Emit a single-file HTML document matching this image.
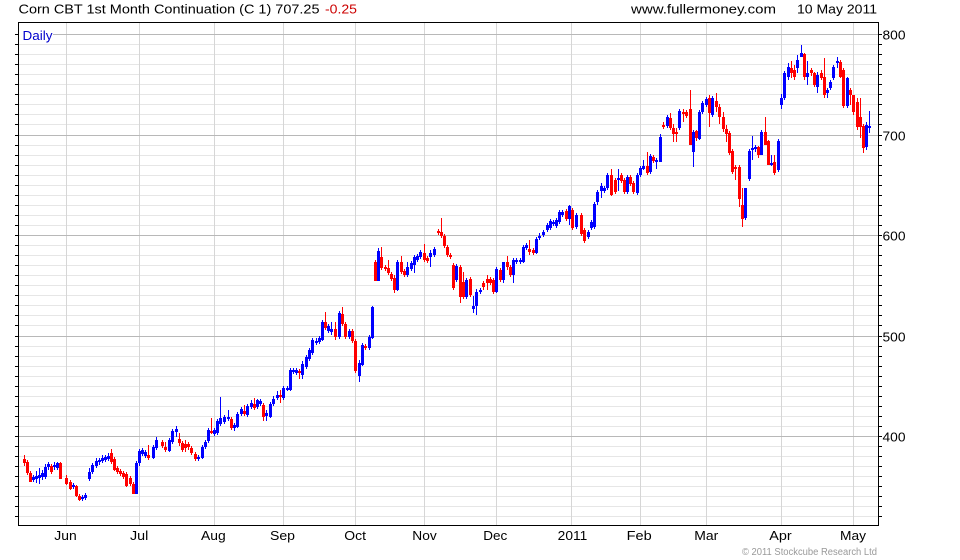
<!DOCTYPE html>
<html><head><meta charset="utf-8"><style>
html,body{margin:0;padding:0;background:#fff;}
svg{display:block;}
text{font-family:"Liberation Sans",Arial,sans-serif;}
</style></head><body>
<svg width="960" height="560" viewBox="0 0 960 560" xmlns="http://www.w3.org/2000/svg">
<rect x="0" y="0" width="960" height="560" fill="#fff"/>
<path shape-rendering="crispEdges" stroke="#e6e6e6" stroke-width="1" fill="none" d="M18 44.5H878M18 54.5H878M18 64.5H878M18 74.5H878M18 84.5H878M18 94.5H878M18 104.5H878M18 114.5H878M18 124.5H878M18 145.5H878M18 155.5H878M18 165.5H878M18 175.5H878M18 185.5H878M18 195.5H878M18 205.5H878M18 215.5H878M18 225.5H878M18 245.5H878M18 255.5H878M18 265.5H878M18 275.5H878M18 285.5H878M18 295.5H878M18 305.5H878M18 315.5H878M18 325.5H878M18 346.5H878M18 356.5H878M18 366.5H878M18 376.5H878M18 386.5H878M18 396.5H878M18 406.5H878M18 416.5H878M18 426.5H878M18 446.5H878M18 456.5H878M18 466.5H878M18 476.5H878M18 486.5H878M18 496.5H878M18 506.5H878M18 516.5H878"/>
<path shape-rendering="crispEdges" stroke="#d6d6d6" stroke-width="1" fill="none" d="M66.5 22V525M139.5 22V525M214.5 22V525M283.5 22V525M355.5 22V525M424.5 22V525M496.5 22V525M571.5 22V525M640.5 22V525M706.5 22V525M781.5 22V525M853.5 22V525"/>
<path shape-rendering="crispEdges" stroke="#b8b8b8" stroke-width="1" fill="none" d="M18 34.5H878M18 135.5H878M18 235.5H878M18 336.5H878M18 436.5H878"/>
<path shape-rendering="crispEdges" stroke="#000" stroke-width="1" fill="none" d="M15 34.5H18M15 44.5H18M15 54.5H18M15 64.5H18M15 74.5H18M15 84.5H18M15 94.5H18M15 104.5H18M15 114.5H18M15 124.5H18M15 135.5H18M15 145.5H18M15 155.5H18M15 165.5H18M15 175.5H18M15 185.5H18M15 195.5H18M15 205.5H18M15 215.5H18M15 225.5H18M15 235.5H18M15 245.5H18M15 255.5H18M15 265.5H18M15 275.5H18M15 285.5H18M15 295.5H18M15 305.5H18M15 315.5H18M15 325.5H18M15 336.5H18M15 346.5H18M15 356.5H18M15 366.5H18M15 376.5H18M15 386.5H18M15 396.5H18M15 406.5H18M15 416.5H18M15 426.5H18M15 436.5H18M15 446.5H18M15 456.5H18M15 466.5H18M15 476.5H18M15 486.5H18M15 496.5H18M15 506.5H18M15 516.5H18M878 34.5H882M878 44.5H882M878 54.5H882M878 64.5H882M878 74.5H882M878 84.5H882M878 94.5H882M878 104.5H882M878 114.5H882M878 124.5H882M878 135.5H882M878 145.5H882M878 155.5H882M878 165.5H882M878 175.5H882M878 185.5H882M878 195.5H882M878 205.5H882M878 215.5H882M878 225.5H882M878 235.5H882M878 245.5H882M878 255.5H882M878 265.5H882M878 275.5H882M878 285.5H882M878 295.5H882M878 305.5H882M878 315.5H882M878 325.5H882M878 336.5H882M878 346.5H882M878 356.5H882M878 366.5H882M878 376.5H882M878 386.5H882M878 396.5H882M878 406.5H882M878 416.5H882M878 426.5H882M878 436.5H882M878 446.5H882M878 456.5H882M878 466.5H882M878 476.5H882M878 486.5H882M878 496.5H882M878 506.5H882M878 516.5H882"/>
<rect x="19" y="27" width="34" height="15" fill="#fff"/>
<text x="22.5" y="40" font-size="13" fill="#0000cc" textLength="30" lengthAdjust="spacingAndGlyphs">Daily</text>
<path shape-rendering="crispEdges" fill="#0000ff" d="M32 477h3V480h-3zM33 475h1V482h-1zM35 476h3V479h-3zM36 471h1V483h-1zM38 475h3V478h-3zM39 468h1V484h-1zM41 473h3V477h-3zM42 470h1V480h-1zM44 467h3V477h-3zM45 464h1V479h-1zM47 464h3V467h-3zM48 462h1V470h-1zM53 465h3V467h-3zM54 462h1V470h-1zM56 463h3V468h-3zM57 462h1V470h-1zM72 485h3V487h-3zM73 483h1V489h-1zM81 497h3V499h-3zM82 495h1V501h-1zM84 495h3V498h-3zM85 493h1V500h-1zM88 472h3V479h-3zM89 468h1V481h-1zM91 465h3V472h-3zM92 463h1V474h-1zM95 461h3V466h-3zM96 458h1V468h-1zM98 460h3V462h-3zM99 458h1V465h-1zM101 458h3V461h-3zM102 455h1V463h-1zM104 457h3V460h-3zM105 455h1V462h-1zM107 456h3V459h-3zM108 453h1V461h-1zM135 463h3V494h-3zM136 461h1V494h-1zM138 451h3V463h-3zM139 449h1V466h-1zM141 450h3V454h-3zM142 448h1V456h-1zM144 452h3V456h-3zM145 450h1V458h-1zM152 447h3V458h-3zM153 445h1V459h-1zM155 440h3V448h-3zM156 437h1V450h-1zM168 440h3V451h-3zM169 438h1V452h-1zM171 431h3V442h-3zM172 429h1V444h-1zM175 429h3V432h-3zM176 426h1V437h-1zM197 457h3V459h-3zM198 455h1V461h-1zM201 447h3V458h-3zM202 445h1V459h-1zM204 442h3V447h-3zM205 440h1V449h-1zM207 430h3V441h-3zM208 428h1V443h-1zM213 430h3V434h-3zM214 428h1V436h-1zM216 421h3V433h-3zM217 419h1V435h-1zM219 418h3V424h-3zM220 397h1V426h-1zM223 417h3V422h-3zM224 415h1V424h-1zM227 417h3V419h-3zM228 410h1V421h-1zM233 425h3V428h-3zM234 423h1V431h-1zM236 414h3V427h-3zM237 412h1V428h-1zM240 409h3V414h-3zM241 407h1V416h-1zM246 406h3V415h-3zM247 404h1V417h-1zM250 403h3V407h-3zM251 400h1V409h-1zM256 400h3V407h-3zM257 399h1V409h-1zM259 401h3V404h-3zM260 399h1V406h-1zM265 413h3V416h-3zM266 410h1V421h-1zM269 404h3V417h-3zM270 402h1V418h-1zM272 399h3V404h-3zM273 396h1V406h-1zM276 395h3V398h-3zM277 391h1V400h-1zM282 388h3V398h-3zM283 386h1V400h-1zM286 388h3V390h-3zM287 386h1V391h-1zM289 370h3V390h-3zM290 368h1V391h-1zM292 370h3V372h-3zM293 368h1V374h-1zM295 370h3V373h-3zM296 368h1V375h-1zM301 364h3V375h-3zM302 361h1V379h-1zM305 357h3V367h-3zM306 355h1V369h-1zM308 350h3V359h-3zM309 348h1V361h-1zM311 340h3V353h-3zM312 338h1V355h-1zM315 341h3V343h-3zM316 338h1V345h-1zM318 338h3V342h-3zM319 336h1V344h-1zM321 322h3V340h-3zM322 320h1V341h-1zM327 326h3V331h-3zM328 324h1V333h-1zM330 329h3V332h-3zM331 322h1V335h-1zM338 313h3V337h-3zM339 311h1V339h-1zM348 331h3V337h-3zM349 329h1V339h-1zM358 363h3V376h-3zM359 360h1V382h-1zM361 345h3V365h-3zM362 343h1V366h-1zM368 337h3V348h-3zM369 335h1V350h-1zM371 307h3V338h-3zM372 306h1V339h-1zM377 251h3V281h-3zM378 248h1V281h-1zM396 262h3V290h-3zM397 260h1V291h-1zM406 267h3V275h-3zM407 262h1V277h-1zM410 263h3V269h-3zM411 261h1V271h-1zM413 257h3V265h-3zM414 255h1V273h-1zM416 256h3V260h-3zM417 254h1V262h-1zM419 252h3V257h-3zM420 250h1V259h-1zM429 253h3V257h-3zM430 250h1V267h-1zM433 249h3V255h-3zM434 247h1V257h-1zM455 266h3V280h-3zM456 264h1V282h-1zM465 280h3V297h-3zM466 278h1V299h-1zM472 306h3V309h-3zM473 296h1V313h-1zM475 292h3V306h-3zM476 289h1V315h-1zM479 290h3V292h-3zM480 288h1V294h-1zM495 269h3V292h-3zM496 267h1V293h-1zM502 262h3V280h-3zM503 262h1V283h-1zM512 260h3V275h-3zM513 258h1V283h-1zM515 260h3V262h-3zM516 258h1V264h-1zM519 260h3V262h-3zM520 258h1V264h-1zM522 247h3V262h-3zM523 245h1V263h-1zM525 245h3V248h-3zM526 243h1V250h-1zM535 239h3V253h-3zM536 237h1V254h-1zM538 236h3V238h-3zM539 233h1V240h-1zM542 232h3V235h-3zM543 230h1V237h-1zM546 225h3V230h-3zM547 223h1V232h-1zM549 221h3V228h-3zM550 219h1V230h-1zM552 222h3V224h-3zM553 220h1V226h-1zM555 220h3V226h-3zM556 218h1V228h-1zM558 212h3V222h-3zM559 210h1V224h-1zM561 212h3V215h-3zM562 210h1V217h-1zM568 206h3V219h-3zM569 205h1V225h-1zM575 215h3V227h-3zM576 213h1V229h-1zM587 232h3V237h-3zM588 230h1V239h-1zM590 222h3V228h-3zM591 220h1V230h-1zM593 204h3V227h-3zM594 202h1V229h-1zM596 192h3V202h-3zM597 190h1V205h-1zM600 186h3V191h-3zM601 183h1V198h-1zM603 188h3V191h-3zM604 186h1V193h-1zM606 175h3V188h-3zM607 173h1V190h-1zM617 178h3V180h-3zM618 169h1V191h-1zM626 177h3V192h-3zM627 175h1V194h-1zM636 175h3V193h-3zM637 173h1V195h-1zM639 168h3V175h-3zM640 166h1V177h-1zM642 166h3V169h-3zM643 160h1V170h-1zM649 156h3V172h-3zM650 154h1V174h-1zM655 160h3V162h-3zM656 158h1V169h-1zM659 137h3V162h-3zM660 134h1V162h-1zM666 117h3V126h-3zM667 115h1V128h-1zM678 111h3V128h-3zM679 109h1V130h-1zM692 132h3V152h-3zM693 130h1V167h-1zM698 112h3V139h-3zM699 110h1V140h-1zM701 103h3V112h-3zM702 101h1V114h-1zM705 99h3V105h-3zM706 97h1V107h-1zM711 98h3V115h-3zM712 96h1V117h-1zM744 188h3V218h-3zM745 188h1V220h-1zM748 151h3V179h-3zM749 149h1V181h-1zM751 148h3V150h-3zM752 136h1V160h-1zM754 147h3V149h-3zM755 145h1V152h-1zM760 132h3V155h-3zM761 130h1V155h-1zM770 163h3V165h-3zM771 155h1V166h-1zM777 141h3V170h-3zM778 139h1V172h-1zM780 98h3V105h-3zM781 94h1V109h-1zM783 73h3V98h-3zM784 71h1V100h-1zM787 67h3V77h-3zM788 63h1V80h-1zM796 60h3V68h-3zM797 55h1V73h-1zM800 53h3V57h-3zM801 45h1V57h-1zM806 73h3V77h-3zM807 61h1V85h-1zM816 75h3V87h-3zM817 72h1V93h-1zM826 90h3V93h-3zM827 88h1V98h-1zM829 82h3V88h-3zM830 80h1V90h-1zM832 67h3V78h-3zM833 65h1V80h-1zM836 61h3V63h-3zM837 57h1V68h-1zM846 78h3V106h-3zM847 77h1V108h-1zM865 125h3V147h-3zM866 122h1V150h-1zM868 126h3V128h-3zM869 111h1V133h-1z"/>
<path shape-rendering="crispEdges" fill="#ff0000" d="M23 459h3V463h-3zM24 455h1V466h-1zM26 462h3V473h-3zM27 460h1V475h-1zM29 473h3V482h-3zM30 471h1V482h-1zM50 466h3V472h-3zM51 464h1V474h-1zM59 463h3V479h-3zM60 462h1V479h-1zM65 478h3V484h-3zM66 475h1V485h-1zM69 482h3V489h-3zM70 480h1V490h-1zM75 486h3V496h-3zM76 485h1V497h-1zM78 496h3V500h-3zM79 494h1V501h-1zM110 453h3V462h-3zM111 449h1V464h-1zM113 459h3V470h-3zM114 457h1V471h-1zM116 468h3V472h-3zM117 466h1V474h-1zM119 471h3V474h-3zM120 469h1V476h-1zM122 473h3V477h-3zM123 471h1V479h-1zM125 474h3V486h-3zM126 472h1V487h-1zM129 478h3V484h-3zM130 476h1V486h-1zM132 484h3V494h-3zM133 482h1V494h-1zM147 455h3V458h-3zM148 445h1V460h-1zM161 442h3V446h-3zM162 440h1V448h-1zM164 447h3V450h-3zM165 442h1V452h-1zM178 439h3V443h-3zM179 433h1V446h-1zM181 443h3V450h-3zM182 441h1V452h-1zM184 444h3V448h-3zM185 440h1V452h-1zM187 444h3V447h-3zM188 442h1V450h-1zM190 448h3V453h-3zM191 446h1V455h-1zM194 454h3V459h-3zM195 452h1V461h-1zM210 431h3V433h-3zM211 418h1V434h-1zM230 419h3V428h-3zM231 417h1V430h-1zM243 411h3V414h-3zM244 405h1V416h-1zM253 404h3V408h-3zM254 398h1V410h-1zM262 405h3V417h-3zM263 403h1V421h-1zM279 395h3V397h-3zM280 390h1V403h-1zM298 371h3V373h-3zM299 369h1V379h-1zM324 322h3V328h-3zM325 312h1V330h-1zM334 329h3V337h-3zM335 322h1V340h-1zM341 314h3V324h-3zM342 307h1V326h-1zM344 324h3V337h-3zM345 322h1V339h-1zM351 331h3V341h-3zM352 329h1V343h-1zM354 341h3V371h-3zM355 339h1V373h-1zM364 346h3V348h-3zM365 344h1V350h-1zM374 262h3V281h-3zM375 260h1V281h-1zM380 257h3V268h-3zM381 247h1V270h-1zM384 267h3V269h-3zM385 265h1V271h-1zM387 268h3V273h-3zM388 260h1V275h-1zM390 274h3V279h-3zM391 272h1V281h-1zM393 278h3V290h-3zM394 275h1V293h-1zM400 262h3V272h-3zM401 256h1V274h-1zM403 271h3V275h-3zM404 269h1V277h-1zM423 253h3V260h-3zM424 244h1V262h-1zM426 258h3V261h-3zM427 256h1V263h-1zM437 231h3V233h-3zM438 229h1V235h-1zM440 232h3V236h-3zM441 218h1V238h-1zM443 236h3V246h-3zM444 234h1V248h-1zM446 247h3V255h-3zM447 245h1V257h-1zM449 255h3V257h-3zM450 253h1V259h-1zM452 265h3V288h-3zM453 263h1V290h-1zM459 267h3V297h-3zM460 265h1V303h-1zM462 282h3V297h-3zM463 272h1V299h-1zM469 279h3V295h-3zM470 277h1V297h-1zM482 283h3V287h-3zM483 281h1V290h-1zM486 279h3V283h-3zM487 275h1V290h-1zM489 279h3V283h-3zM490 277h1V285h-1zM492 280h3V292h-3zM493 278h1V294h-1zM499 270h3V280h-3zM500 268h1V282h-1zM506 262h3V267h-3zM507 256h1V270h-1zM509 267h3V275h-3zM510 265h1V277h-1zM528 249h3V252h-3zM529 240h1V255h-1zM532 250h3V253h-3zM533 248h1V255h-1zM565 211h3V219h-3zM566 209h1V221h-1zM571 210h3V228h-3zM572 208h1V230h-1zM580 215h3V234h-3zM581 213h1V236h-1zM583 230h3V241h-3zM584 228h1V243h-1zM610 175h3V195h-3zM611 169h1V196h-1zM614 180h3V192h-3zM615 178h1V194h-1zM620 175h3V181h-3zM621 173h1V183h-1zM623 180h3V192h-3zM624 178h1V194h-1zM629 177h3V184h-3zM630 175h1V186h-1zM632 183h3V192h-3zM633 181h1V194h-1zM646 166h3V173h-3zM647 152h1V175h-1zM652 157h3V161h-3zM653 155h1V163h-1zM662 125h3V127h-3zM663 122h1V129h-1zM669 118h3V128h-3zM670 113h1V130h-1zM672 128h3V134h-3zM673 124h1V142h-1zM675 132h3V134h-3zM676 128h1V142h-1zM682 112h3V114h-3zM683 109h1V122h-1zM685 112h3V116h-3zM686 110h1V118h-1zM689 109h3V145h-3zM690 90h1V145h-1zM695 131h3V138h-3zM696 130h1V141h-1zM708 98h3V113h-3zM709 95h1V127h-1zM715 101h3V107h-3zM716 93h1V112h-1zM718 107h3V117h-3zM719 104h1V124h-1zM722 117h3V129h-3zM723 112h1V132h-1zM725 129h3V134h-3zM726 125h1V142h-1zM728 133h3V153h-3zM729 131h1V155h-1zM731 151h3V172h-3zM732 149h1V174h-1zM734 167h3V169h-3zM735 165h1V180h-1zM738 167h3V199h-3zM739 165h1V207h-1zM741 205h3V219h-3zM742 188h1V227h-1zM757 147h3V155h-3zM758 146h1V158h-1zM764 132h3V145h-3zM765 117h1V145h-1zM767 141h3V165h-3zM768 140h1V165h-1zM773 162h3V173h-3zM774 155h1V175h-1zM790 68h3V73h-3zM791 61h1V78h-1zM793 70h3V77h-3zM794 65h1V80h-1zM803 54h3V77h-3zM804 53h1V80h-1zM810 70h3V73h-3zM811 68h1V76h-1zM813 73h3V85h-3zM814 72h1V87h-1zM820 73h3V78h-3zM821 70h1V80h-1zM823 77h3V95h-3zM824 58h1V98h-1zM839 62h3V77h-3zM840 60h1V78h-1zM842 70h3V106h-3zM843 68h1V108h-1zM849 90h3V95h-3zM850 88h1V105h-1zM852 95h3V112h-3zM853 95h1V115h-1zM856 102h3V127h-3zM857 98h1V130h-1zM859 117h3V127h-3zM860 98h1V138h-1zM862 126h3V148h-3zM863 124h1V153h-1z"/>
<rect x="18.5" y="22.5" width="860" height="503" fill="none" stroke="#000" stroke-width="1" shape-rendering="crispEdges"/>
<text x="18.5" y="13.5" font-size="13" fill="#000" textLength="301" lengthAdjust="spacingAndGlyphs">Corn CBT 1st Month Continuation (C 1) 707.25</text>
<text x="325" y="13.5" font-size="13" fill="#cc0000" textLength="32" lengthAdjust="spacingAndGlyphs">-0.25</text>
<text x="631" y="13.5" font-size="13" fill="#000" textLength="145" lengthAdjust="spacingAndGlyphs">www.fullermoney.com</text>
<text x="797" y="13.5" font-size="13" fill="#000" textLength="80" lengthAdjust="spacingAndGlyphs">10 May 2011</text>
<text x="882.5" y="39.5" font-size="13" fill="#000" textLength="23" lengthAdjust="spacingAndGlyphs">800</text>
<text x="882.5" y="140.5" font-size="13" fill="#000" textLength="23" lengthAdjust="spacingAndGlyphs">700</text>
<text x="882.5" y="240.5" font-size="13" fill="#000" textLength="23" lengthAdjust="spacingAndGlyphs">600</text>
<text x="882.5" y="341.5" font-size="13" fill="#000" textLength="23" lengthAdjust="spacingAndGlyphs">500</text>
<text x="882.5" y="441.5" font-size="13" fill="#000" textLength="23" lengthAdjust="spacingAndGlyphs">400</text>
<g font-size="13" fill="#000">
<text x="54.3" y="540" textLength="22.4" lengthAdjust="spacingAndGlyphs">Jun</text>
<text x="130" y="540" textLength="18.3" lengthAdjust="spacingAndGlyphs">Jul</text>
<text x="201" y="540" textLength="24.7" lengthAdjust="spacingAndGlyphs">Aug</text>
<text x="270" y="540" textLength="25" lengthAdjust="spacingAndGlyphs">Sep</text>
<text x="344.3" y="540" textLength="21.7" lengthAdjust="spacingAndGlyphs">Oct</text>
<text x="412.3" y="540" textLength="24.4" lengthAdjust="spacingAndGlyphs">Nov</text>
<text x="483.3" y="540" textLength="24" lengthAdjust="spacingAndGlyphs">Dec</text>
<text x="557.7" y="540" textLength="29.6" lengthAdjust="spacingAndGlyphs">2011</text>
<text x="626.7" y="540" textLength="25" lengthAdjust="spacingAndGlyphs">Feb</text>
<text x="694.3" y="540" textLength="24" lengthAdjust="spacingAndGlyphs">Mar</text>
<text x="769.3" y="540" textLength="22.4" lengthAdjust="spacingAndGlyphs">Apr</text>
<text x="840" y="540" textLength="26" lengthAdjust="spacingAndGlyphs">May</text>
</g>
<text x="742" y="555" font-size="10" fill="#999" textLength="135" lengthAdjust="spacingAndGlyphs">© 2011 Stockcube Research Ltd</text>
</svg>
</body></html>
